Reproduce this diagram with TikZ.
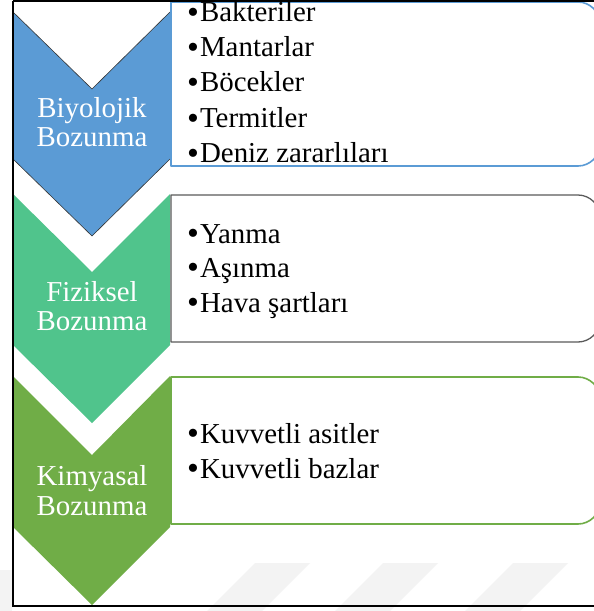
\documentclass[tikz,border=0pt]{standalone}
\usepackage{fontspec}
\setmainfont{Liberation Serif}
\definecolor{bioblue}{HTML}{5B9BD5}
\definecolor{physgreen}{HTML}{50C48C}
\definecolor{chemgreen}{HTML}{70AD47}
\definecolor{boxgray}{HTML}{5A5A5A}
\definecolor{markgray}{HTML}{F3F3F3}
% slightly larger list bullet, set on the text's mid height
\newcommand{\itembullet}{\smash{\raisebox{-1.8bp}{\fontsize{34}{34}\selectfont•}}\kern1bp}
\begin{document}
\begin{tikzpicture}[x=1bp,y=-1bp,
  itemtext/.style={anchor=base west, inner sep=0pt, text=black,
    font=\rmfamily\fontsize{29}{34}\selectfont},
  chevtext/.style={anchor=base, inner sep=0pt, text=white,
    font=\rmfamily\fontsize{29}{29}\selectfont},
  listbox/.style={fill=white, line width=1.6bp, line join=round},
  chevron/.style={line join=miter}]
\useasboundingbox (0,0) rectangle (594,611);
\clip (0,0) rectangle (594,611);
\fill[white] (0,0) rectangle (594,611);

% faint slanted stripes along the bottom edge
\foreach \sx in {255,383,513}{
  \fill[markgray] (\sx,563) -- (\sx+55,563) -- (\sx+7,611) -- (\sx-48,611) -- cycle;
}
\fill[markgray] (0,570) -- (12,570) -- (12,611) -- (0,611) -- cycle;

% chevrons
\fill[chevron, bioblue]
  (13,12) -- (92,89) -- (170,12) -- (170,159) -- (92,236) -- (13,159) -- cycle;
\draw[black!80, line width=0.6bp, line join=miter]
  (13,12) -- (92,89) -- (170,12) (170,159) -- (92,236) -- (13,159);
\fill[chevron, physgreen]
  (13,194) -- (92,272) -- (170,194) -- (170,345) -- (92,423) -- (13,345) -- cycle;
\fill[chevron, chemgreen]
  (13,376) -- (92,455) -- (170,376) -- (170,527) -- (92,605) -- (13,527) -- cycle;

% list boxes, rounded on the right side only
\draw[listbox, draw=bioblue]
  (171,166) -- (171,2) -- (578,2) .. controls (590,2) and (600,12) .. (600,24)
  -- (600,144) .. controls (600,156) and (590,166) .. (578,166) -- cycle;
\draw[listbox, draw=boxgray, line width=1.3bp]
  (171,342) -- (171,195) -- (578,195) .. controls (590,195) and (600,205) .. (600,217)
  -- (600,320) .. controls (600,332) and (590,342) .. (578,342) -- cycle;
\draw[listbox, draw=chemgreen]
  (171,524) -- (171,377) -- (578,377) .. controls (590,377) and (600,387) .. (600,399)
  -- (600,502) .. controls (600,514) and (590,524) .. (578,524) -- cycle;

% chevron labels
\node[chevtext] (bioA) at (92,118) {Biyolojik};
\node[chevtext] (bioB) at (92,147) {Bozunma};
\node[chevtext] (fizA) at (92,301) {Fiziksel};
\node[chevtext] (fizB) at (92,330) {Bozunma};
\node[chevtext] (kimA) at (92,485) {Kimyasal};
\node[chevtext] (kimB) at (92,515) {Bozunma};

% list items
\node[itemtext] (b1) at (187,22)  {\itembullet Bakteriler};
\node[itemtext] (b2) at (187,57)  {\itembullet Mantarlar};
\node[itemtext] (b3) at (187,92)  {\itembullet Böcekler};
\node[itemtext] (b4) at (187,128) {\itembullet Termitler};
\node[itemtext] (b5) at (187,163) {\itembullet Deniz zararlıları};
\node[itemtext] (f1) at (187,243) {\itembullet Yanma};
\node[itemtext] (f2) at (187,277) {\itembullet Aşınma};
\node[itemtext] (f3) at (187,312) {\itembullet Hava şartları};
\node[itemtext] (k1) at (187,443) {\itembullet Kuvvetli asitler};
\node[itemtext] (k2) at (187,478) {\itembullet Kuvvetli bazlar};

% outer frame
\draw[black, line width=2bp] (12.7,0.8) -- (640,0.8) (12.7,0.8) -- (12.7,605.5) -- (640,605.5);
\end{tikzpicture}
\end{document}
